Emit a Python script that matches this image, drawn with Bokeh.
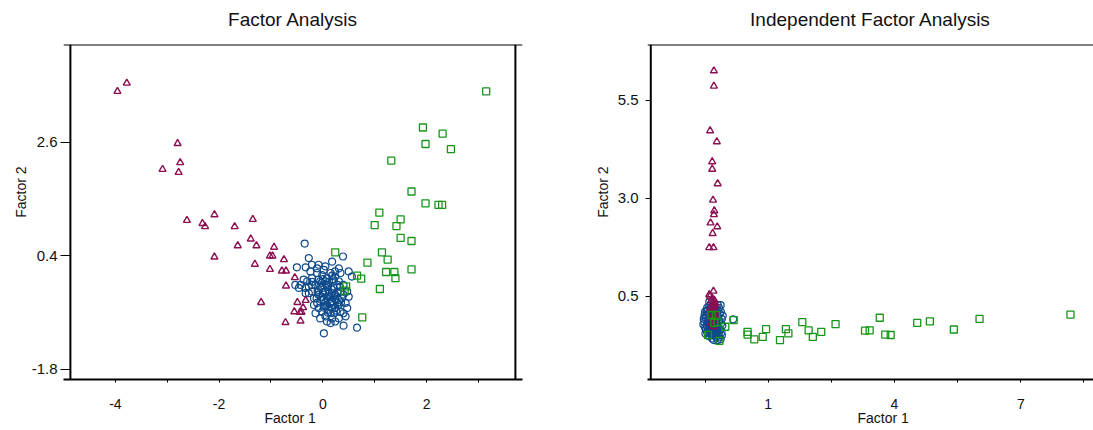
from bokeh.plotting import figure
from bokeh.models import Range1d, FixedTicker, Span, Title
from bokeh.layouts import row
from bokeh.embed import file_html
from bokeh.resources import INLINE

# ---------------- data: Factor Analysis (left panel) ----------------
fa_tri_x = [-3.96, -3.78, -2.80, -2.75, -3.09, -2.78, -2.62, -2.09, -2.32, -2.27,
            -1.70, -1.35, -1.39, -1.64, -1.28, -0.94, -2.09, -1.02, -0.97, -0.75,
            -1.31, -1.02, -0.79, -0.71, -0.54, -0.71, -1.19, -0.49, -0.33, -0.55,
            -0.44, -0.41, -0.38, -0.72, -0.43]
fa_tri_y = [3.59, 3.75, 2.58, 2.21, 2.08, 2.02, 1.09, 1.20, 1.03, 0.97,
            0.97, 1.11, 0.73, 0.60, 0.60, 0.57, 0.38, 0.40, 0.40, 0.33,
            0.24, 0.14, 0.11, 0.11, -0.02, -0.18, -0.50, -0.50, -0.46, -0.68,
            -0.69, -0.69, -0.60, -0.89, -0.86]

fa_sq_x = [3.15, 1.93, 2.31, 1.98, 2.47, 1.32, 1.71, 1.98, 2.23, 2.30,
           1.09, 1.00, 1.50, 1.42, 1.50, 1.71, 0.24, 1.14, 1.25, 0.86,
           1.22, 1.38, 1.71, 0.66, 0.74, 1.40, 0.45, 0.42, 1.10, 0.76]
fa_sq_y = [3.59, 2.89, 2.77, 2.57, 2.47, 2.25, 1.65, 1.42, 1.39, 1.39,
           1.24, 1.00, 1.11, 0.98, 0.75, 0.69, 0.47, 0.47, 0.33, 0.27,
           0.09, 0.09, 0.14, 0.02, -0.04, -0.03, -0.19, -0.27, -0.24, -0.79]

fa_circ_x = [-0.35, 0.39, -0.27, -0.50, -0.33, -0.21, -0.08, 0.18, 0.05, 0.34,
             0.50, 0.56, -0.24, -0.11, -0.37, -0.43, -0.53, -0.46, -0.30, -0.21,
             -0.01, 0.15, 0.24, 0.31, 0.40, 0.47, 0.50, 0.44, 0.47, 0.40,
             0.44, 0.31, 0.18, 0.05, 0.08, 0.15, 0.02, 0.40, 0.66, -0.08,
             -0.11, -0.17, -0.27, -0.33, -0.01, 0.05, 0.11, 0.21, 0.24, 0.31,
             0.18, 0.08, -0.01, 0.24, 0.34, -0.08, 0.11, 0.02, 0.21, -0.14,
             -0.05, 0.08, -0.27, -0.08, -0.21, 0.18, 0.37, 0.28, 0.11, 0.21,
             0.05, -0.05, -0.14, 0.34, 0.40, 0.08, -0.17, 0.24, 0.15, -0.08,
             -0.11, 0.02, -0.33, 0.28, 0.15, -0.01, 0.05, 0.24, 0.31, -0.21,
             0.00, 0.10, 0.15, 0.05, 0.20, -0.05, 0.12, 0.25, 0.02, 0.18,
             -0.03, 0.28, 0.08, 0.14, 0.22, -0.10, 0.30, 0.06, 0.17, -0.12,
             0.10, 0.26, 0.35, 0.12, -0.02, 0.20, 0.33, -0.20, 0.00, 0.18]
fa_circ_y = [0.64, 0.39, 0.36, 0.18, 0.18, 0.23, 0.23, 0.29, 0.20, 0.07,
             0.10, 0.00, 0.10, 0.07, -0.06, -0.16, -0.16, -0.22, -0.09, -0.03,
             0.03, 0.07, 0.00, -0.09, -0.16, -0.29, -0.39, -0.51, -0.61, -0.71,
             -0.77, -0.81, -0.81, -0.77, -0.87, -0.90, -1.10, -0.95, -0.99, -0.61,
             -0.51, -0.42, -0.32, -0.22, -0.22, -0.29, -0.16, -0.22, -0.35, -0.45,
             -0.48, -0.55, -0.68, -0.61, -0.68, -0.35, -0.39, -0.45, -0.09, -0.16,
             -0.09, -0.03, -0.19, -0.26, -0.29, -0.32, -0.42, -0.51, -0.64, -0.71,
             -0.58, -0.81, -0.71, -0.29, -0.35, -0.19, -0.55, -0.87, -0.71, -0.06,
             0.16, 0.13, -0.32, -0.16, -0.48, -0.39, -0.09, 0.10, 0.16, -0.16,
             -0.30, -0.25, -0.40, -0.50, -0.55, -0.20, -0.33, -0.45, -0.60, -0.62,
             -0.45, -0.30, -0.42, -0.52, -0.38, -0.30, -0.55, -0.15, -0.25, -0.42,
             -0.70, -0.66, -0.50, -0.10, -0.12, -0.05, -0.20, -0.10, -0.05, 0.02]

fa_xticks = [-4, -2, 0, 2]
fa_xlabels = ["-4", "-2", "0", "2"]
fa_xminor = [-3, -1, 1, 3]
fa_yticks = [2.6, 0.4, -1.8]
fa_ylabels = ["2.6", "0.4", "-1.8"]

# ---------------- data: Independent Factor Analysis (right panel) ----------------
ifa_tri_x = [-0.29, -0.29, -0.38, -0.22, -0.33, -0.33, -0.20, -0.31, -0.28, -0.29,
             -0.37, -0.21, -0.32, -0.40, -0.30, -0.30, -0.40, -0.38, -0.33, -0.28,
             -0.36, -0.30, -0.25, -0.34, -0.29, -0.38, -0.31, -0.26, -0.35, -0.30,
             -0.33, -0.27, -0.36, -0.30, -0.25]
ifa_tri_y = [6.25, 5.86, 4.72, 4.44, 3.93, 3.74, 3.37, 2.95, 2.68, 2.58,
             2.37, 2.27, 2.10, 1.74, 1.74, 0.63, 0.54, 0.50, 0.45, 0.40,
             0.38, 0.33, 0.30, 0.28, 0.24, 0.20, 0.17, 0.12, 0.08, 0.03,
             -0.05, -0.12, -0.20, -0.28, 0.00]

ifa_sq_x = [8.18, 6.02, 5.41, 4.84, 4.54, 3.65, 3.91, 3.78, 3.41, 3.30,
            2.60, 2.26, 1.96, 2.06, 1.81, 1.48, 1.42, 1.28, 0.95, 0.87,
            0.67, 0.51, 0.51, 0.18, -0.02, -0.16, -0.43, -0.20, -0.35, -0.28, -0.24]
ifa_sq_y = [0.03, -0.08, -0.35, -0.14, -0.18, -0.05, -0.49, -0.48, -0.37, -0.38,
            -0.21, -0.41, -0.37, -0.54, -0.16, -0.45, -0.34, -0.62, -0.34, -0.54,
            -0.60, -0.41, -0.48, -0.11, -0.28, -0.64, -0.49, -0.16, 0.02, -0.18, 0.02]

ifa_circ_x = [-0.50, -0.45, -0.40, -0.35, -0.20, -0.13, -0.48, -0.52, -0.46, -0.42,
              -0.38, -0.33, -0.28, -0.22, -0.18, -0.12, -0.10, -0.15, -0.20, -0.25,
              -0.30, -0.35, -0.40, -0.44, -0.38, -0.32, -0.26, -0.21, -0.16, -0.23,
              -0.28, -0.33, -0.37, -0.42, -0.47, -0.53, -0.50, -0.45, -0.40, -0.30,
              -0.24, -0.19, -0.14, -0.11, -0.09, -0.17, -0.27, -0.43, -0.36, -0.29,
              -0.24, -0.19, -0.34, -0.39, -0.31, -0.26, -0.21, -0.48, -0.44, -0.41,
              -0.35, -0.16, -0.12, -0.22, -0.31, -0.27, -0.37, -0.46, -0.51, -0.29,
              -0.20, -0.13, -0.17, -0.23, -0.33, -0.40, -0.08, -0.10, -0.54, -0.49,
              0.17]
ifa_circ_y = [0.10, 0.20, 0.25, 0.30, 0.28, 0.27, -0.05, -0.15, -0.25, -0.35,
              -0.45, -0.58, -0.50, -0.40, -0.30, -0.20, -0.08, 0.05, 0.15, 0.20,
              0.12, 0.02, -0.08, -0.18, -0.28, -0.36, -0.30, -0.22, -0.12, -0.05,
              0.05, -0.15, 0.10, 0.05, 0.00, -0.08, -0.30, -0.42, -0.52, -0.45,
              -0.55, -0.48, -0.35, -0.42, -0.25, 0.20, 0.25, 0.15, -0.22, -0.20,
              -0.12, -0.02, -0.08, -0.38, -0.27, -0.40, -0.33, -0.35, -0.10, -0.15,
              -0.48, -0.55, 0.10, 0.08, -0.02, -0.25, -0.02, 0.12, 0.02, -0.62,
              -0.62, -0.60, -0.42, -0.18, 0.20, 0.35, 0.00, -0.50, -0.22, -0.45,
              -0.09]

ifa_xticks = [1, 4, 7]
ifa_xlabels = ["1", "4", "7"]
ifa_xminor = [-0.5, 2.5, 5.5, 8.5]
ifa_yticks = [5.5, 3.0, 0.5]
ifa_ylabels = ["5.5", "3.0", "0.5"]

# ---------------- styling ----------------
FONT = "Liberation Sans"
TRI_COLOR = "#8c0f52"
CIRC_COLOR = "#0d4a8c"
SQ_COLOR = "#16961a"


def make_panel(title, xr, yr, width, border_left, border_right, vlines,
               xticks, xlabels, xminor, yticks, ylabels, ytick_in, ytick_out, ystandoff,
               ylab_standoff, xlab_offset,
               cx, cy, tx, ty, sx, sy):
    p = figure(width=width, height=430, x_range=Range1d(*xr), y_range=Range1d(*yr),
               output_backend="svg", toolbar_location=None,
               min_border_left=border_left, min_border_right=border_right,
               min_border_top=44, min_border_bottom=51)
    p.outline_line_color = None
    p.grid.visible = False
    p.background_fill_color = "white"
    p.border_fill_color = "white"

    # spacer between the frame and the title (pushes the title upward)
    p.add_layout(Title(text=" ", text_font_size="1px", standoff=3), "above")

    p.title.text = title
    p.title.align = "center"
    p.title.vertical_align = "top"
    p.title.standoff = 14
    p.title.text_font = FONT
    p.title.text_font_size = "19px"
    p.title.text_font_style = "normal"
    p.title.text_color = "#111111"

    # x axis
    xa = p.xaxis[0]
    xa.ticker = FixedTicker(ticks=xticks, minor_ticks=xminor)
    xa.major_label_overrides = {t: s for t, s in zip(xticks, xlabels)}
    xa.axis_line_color = "black"
    xa.axis_line_width = 2
    xa.major_tick_line_color = "black"
    xa.major_tick_in = 0
    xa.major_tick_out = 3
    xa.minor_tick_line_color = "black"
    xa.minor_tick_in = 0
    xa.minor_tick_out = 3
    xa.major_label_standoff = 16
    xa.major_label_text_font = FONT
    xa.major_label_text_font_size = "14px"
    xa.major_label_text_color = "#111111"

    # y axis
    ya = p.yaxis[0]
    ya.ticker = FixedTicker(ticks=yticks, minor_ticks=[])
    ya.major_label_overrides = {t: s for t, s in zip(yticks, ylabels)}
    ya.axis_line_color = None
    ya.major_tick_line_color = "black"
    ya.major_tick_in = ytick_in
    ya.major_tick_out = ytick_out
    ya.minor_tick_line_color = None
    ya.major_label_standoff = ystandoff
    ya.major_label_text_font = FONT
    ya.major_label_text_font_size = "15px"
    ya.major_label_text_color = "#111111"

    # frame lines: top line and vertical side lines
    p.add_layout(Span(location=yr[1], dimension="width", line_color="black", line_width=2))
    for v in vlines:
        p.add_layout(Span(location=v, dimension="height", line_color="black", line_width=2))

    # axis titles
    p.add_layout(Title(text="Factor 2", align="right", offset=122, standoff=ylab_standoff,
                       text_font=FONT, text_font_size="14px", text_font_style="normal",
                       text_color="#111111"), "left")
    p.add_layout(Title(text="Factor 1", align="left", offset=xlab_offset, standoff=-3,
                       vertical_align="top",
                       text_font=FONT, text_font_size="14px", text_font_style="normal",
                       text_color="#111111"), "below")

    # points
    p.scatter(cx, cy, marker="circle", size=7, fill_color=None,
              line_color=CIRC_COLOR, line_width=1.2)
    p.scatter(tx, ty, marker="triangle", size=7, fill_color=None,
              line_color=TRI_COLOR, line_width=1.4)
    p.scatter(sx, sy, marker="square", size=7, fill_color=None,
              line_color=SQ_COLOR, line_width=1.3)
    return p


p1 = make_panel("Factor Analysis", (-5.0, 3.85), (-1.994, 4.499), 537, 63, 15,
                [-4.867, 3.713], fa_xticks, fa_xlabels, fa_xminor, fa_yticks, fa_ylabels,
                7, 3, 3, 0, 201,
                fa_circ_x, fa_circ_y, fa_tri_x, fa_tri_y, fa_sq_x, fa_sq_y)

p2 = make_panel("Independent Factor Analysis", (-1.867, 8.727), (-1.625, 6.92), 556, 110, 0,
                [-1.789], ifa_xticks, ifa_xlabels, ifa_xminor, ifa_yticks, ifa_ylabels,
                3, 2, 7, 7, 210,
                ifa_circ_x, ifa_circ_y, ifa_tri_x, ifa_tri_y, ifa_sq_x, ifa_sq_y)

layout = row(p1, p2)
open("out.html", "w").write(file_html(layout, INLINE))
